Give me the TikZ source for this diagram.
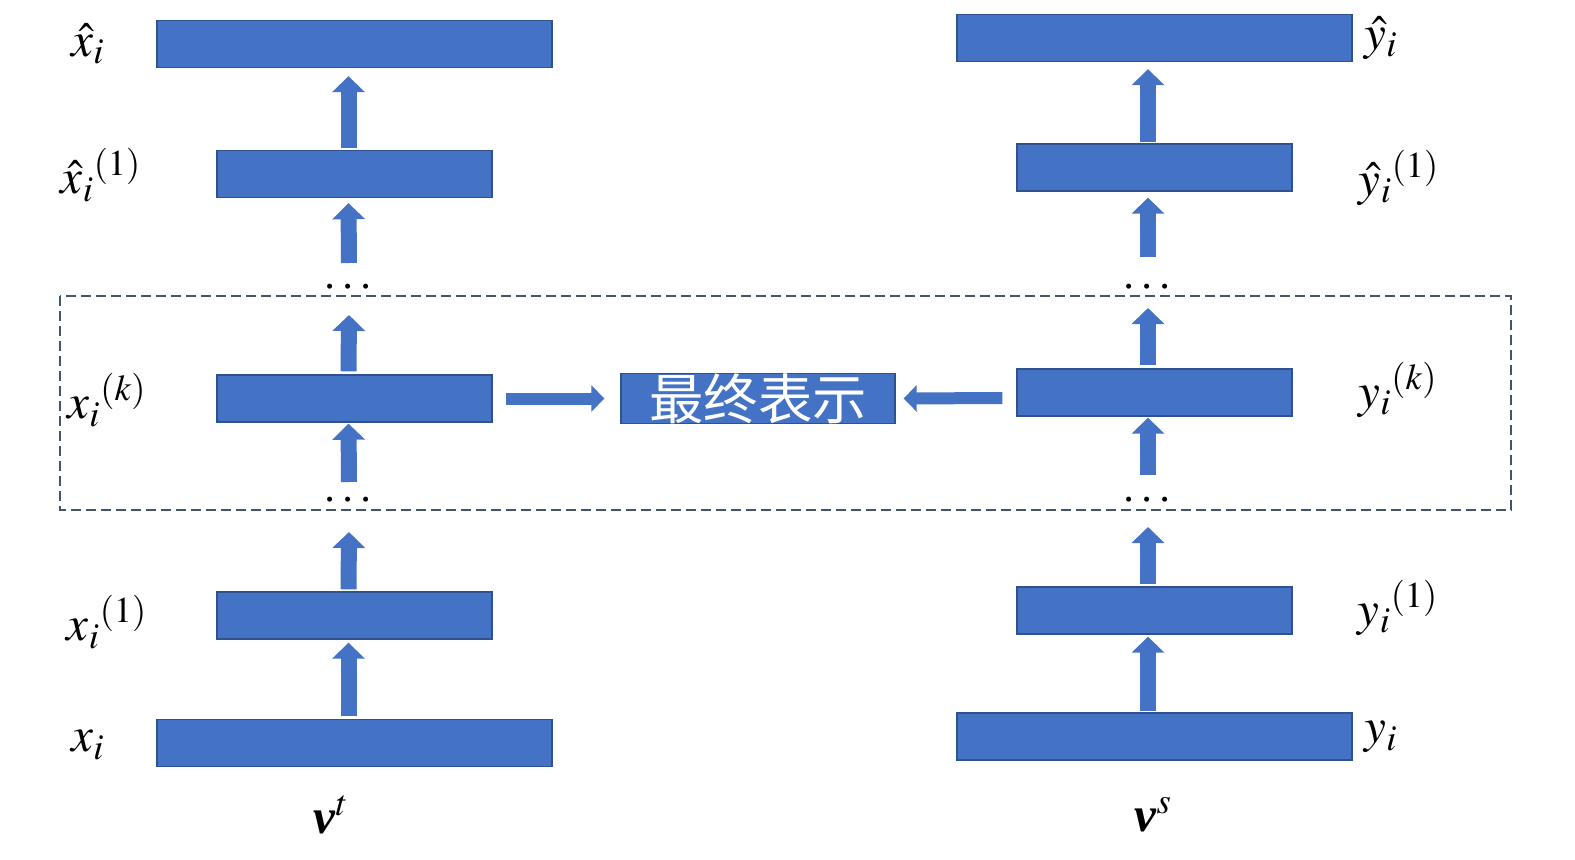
\documentclass[tikz,border=0pt]{standalone}
\usepackage{mathptmx}
\usepackage[no-math]{fontspec}
\setmainfont{Liberation Serif}
\newfontfamily\cjk{Noto Sans CJK SC}
\usetikzlibrary{arrows.meta, positioning, calc}
\definecolor{boxblue}{HTML}{4472C4}
\definecolor{boxedge}{HTML}{2F528F}
\definecolor{framegray}{HTML}{44546A}

\begin{document}
\begin{tikzpicture}[
    x=0.02cm, y=-0.02cm,
    font=\fontsize{28}{32}\selectfont,
    layer/.style={draw=boxedge, line width=0.8pt, fill=boxblue, inner sep=0pt, minimum height=0.94cm},
    wide/.style={layer, minimum width=7.9cm},
    narrow/.style={layer, minimum width=5.5cm},
    uparrow/.style={draw=boxblue, line width=0.32cm, -{Triangle[length=0.32cm, width=0.64cm]}},
    sidearrow/.style={draw=boxblue, line width=0.24cm, -{Triangle[length=0.26cm, width=0.52cm]}},
    dotsnode/.style={inner sep=0pt, font=\fontsize{27}{30}\selectfont}
]
    \useasboundingbox (0,0) rectangle (1575,859);

    % --- left tower ---
    \node [wide] (xh) at (354.5,44) {};
    \node [narrow] (xh1) at (354.5,174) {};
    \node [dotsnode] (dl1) at (348,288) {$\cdots$};
    \node [narrow] (xk) at (354.5,398.5) {};
    \node [dotsnode] (dl2) at (348,501) {$\cdots$};
    \node [narrow] (x1) at (354.5,615.5) {};
    \node [wide] (x0) at (354.5,743) {};

    % --- right tower ---
    \node [wide] (yh) at (1154.5,38) {};
    \node [narrow] (yh1) at (1154.5,167.5) {};
    \node [dotsnode] (dr1) at (1147,288) {$\cdots$};
    \node [narrow] (yk) at (1154.5,392.5) {};
    \node [dotsnode] (dr2) at (1147,501) {$\cdots$};
    \node [narrow] (y1) at (1154.5,610.5) {};
    \node [wide] (y0) at (1154.5,736.5) {};

    % --- shared representation ---
    \node [layer, minimum width=5.48cm, text=white, font=\cjk\fontsize{31}{32}\selectfont] (rep) at (758,398.5) {最终表示};
    \draw [framegray, line width=0.9pt, dash pattern=on 0.2cm off 0.1cm] (60,296) rectangle (1511,510);

    % --- labels ---
    \node (lxh) at (88,44) {$\hat{x}_i$};
    \node (lxh1) at (101,175) {$\hat{x}_i{}^{(1)}$};
    \node (lxk) at (107,400) {$x_i{}^{(k)}$};
    \node (lx1) at (107,622) {$x_i{}^{(1)}$};
    \node (lx0) at (88,745) {$x_i$};
    \node (lyh) at (1381,38) {$\hat{y}_i$};
    \node (lyh1) at (1399,178) {$\hat{y}_i{}^{(1)}$};
    \node (lyk) at (1398,390) {$y_i{}^{(k)}$};
    \node (ly1) at (1398,608) {$y_i{}^{(1)}$};
    \node (ly0) at (1381,737) {$y_i$};
    \node (vt) at (331,815) {\textbf{\textit{v}}$^t$};
    \node (vs) at (1153,815) {\textbf{\textit{v}}$^s$};

    % --- left arrows ---
    \draw [uparrow] ($(x0.north)+(-6,-3)$) -- ($(x1.south)+(-6,3)$);
    \draw [uparrow] ($(x1.north)+(-6,-2)$) -- ($(dl2)+(1,31)$);
    \draw [uparrow] ($(dl2)+(1,-19)$) -- ($(xk.south)+(-6,1)$);
    \draw [uparrow] ($(xk.north)+(-6,-3)$) -- ($(dl1)+(1,27)$);
    \draw [uparrow] ($(dl1)+(1,-25)$) -- ($(xh1.south)+(-6,5)$);
    \draw [uparrow] ($(xh1.north)+(-6,-2)$) -- ($(xh.south)+(-6,8)$);

    % --- right arrows ---
    \draw [uparrow] ($(y0.north)+(-6.5,-1)$) -- ($(y1.south)+(-6.5,2)$);
    \draw [uparrow] ($(y1.north)+(-6.5,-2)$) -- ($(dr2)+(1,26)$);
    \draw [uparrow] ($(dr2)+(1,-26)$) -- ($(yk.south)+(-6.5,1)$);
    \draw [uparrow] ($(yk.north)+(-6.5,-3)$) -- ($(dr1)+(1,20)$);
    \draw [uparrow] ($(dr1)+(1,-31)$) -- ($(yh1.south)+(-6.5,6)$);
    \draw [uparrow] ($(yh1.north)+(-6.5,-1)$) -- ($(yh.south)+(-6.5,7)$);

    % --- into the shared representation ---
    \draw [sidearrow] ($(xk.east)+(13,0)$) -- ($(rep.west)+(-16,0)$);
    \draw [sidearrow] ($(yk.west)+(-14,5.5)$) -- ($(rep.east)+(8,0)$);
\end{tikzpicture}
\end{document}
